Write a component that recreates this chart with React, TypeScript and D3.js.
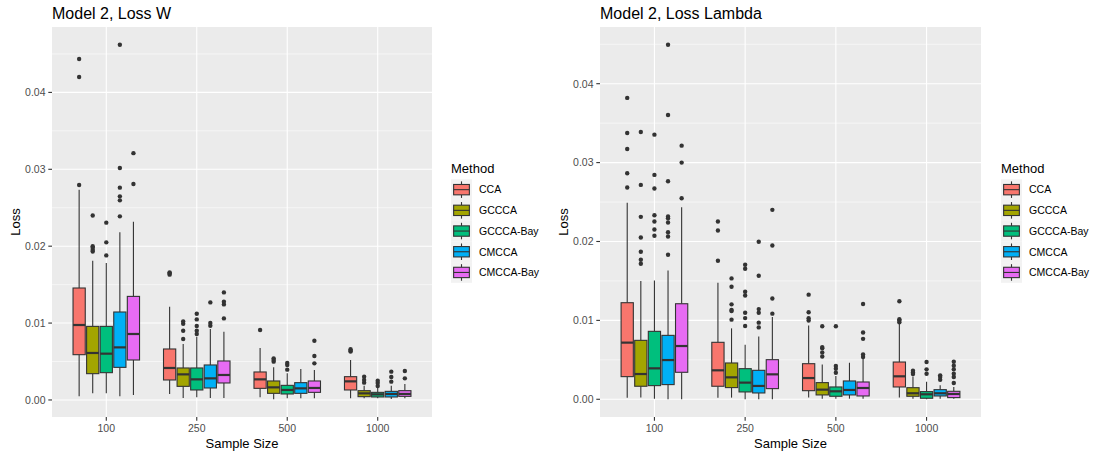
import React from 'react';
import * as d3 from 'd3';

const sampleSizes = ['100', '250', '500', '1000'];
const methods = ['CCA', 'GCCCA', 'GCCCA-Bay', 'CMCCA', 'CMCCA-Bay'];
const methodColors = ['#F8766D', '#A3A500', '#00BF7D', '#00B0F6', '#E76BF3'];
const yTicks = [0, 0.01, 0.02, 0.03, 0.04];
const yMinorTicks = [0.005, 0.015, 0.025, 0.035, 0.045];

// Loss W — per sample size: [lower whisker, Q1, median, Q3, upper whisker]
const wCCA = [
  [0.00047, 0.00589, 0.00975, 0.01456, 0.02735],
  [0.00078, 0.0026, 0.00416, 0.00663, 0.01213],
  [0.00034, 0.00151, 0.00268, 0.00364, 0.00676],
  [0.00021, 0.0013, 0.00242, 0.00303, 0.0052],
];
const wGCCCA = [
  [0.00086, 0.00342, 0.00611, 0.00957, 0.01811],
  [0.00026, 0.00177, 0.00333, 0.00416, 0.00728],
  [0.00009, 0.00086, 0.00164, 0.00247, 0.00424],
  [0.00021, 0.00043, 0.00086, 0.00121, 0.00186],
];
const wGCCCABay = [
  [0.00086, 0.00355, 0.00602, 0.00957, 0.01781],
  [0.00034, 0.0013, 0.00268, 0.00416, 0.00823],
  [0.00021, 0.00078, 0.0013, 0.0019, 0.00346],
  [0.00021, 0.00039, 0.00073, 0.00099, 0.00156],
];
const wCMCCA = [
  [0.00047, 0.00424, 0.00684, 0.01144, 0.0218],
  [0.00026, 0.00156, 0.00281, 0.00455, 0.00923],
  [0.00021, 0.00086, 0.00151, 0.00225, 0.00403],
  [0.00013, 0.00039, 0.00078, 0.00112, 0.00186],
];
const wCMCCABay = [
  [0.00064, 0.0052, 0.00858, 0.01347, 0.02319],
  [0.00026, 0.00221, 0.00325, 0.00507, 0.00888],
  [0.00021, 0.00099, 0.00156, 0.00247, 0.0039],
  [0.00021, 0.00047, 0.00078, 0.00121, 0.00208],
];

// Loss W — outliers per sample size
const wCCAOut = [[0.02796, 0.042, 0.04434], [0.0163, 0.01646, 0.0166], [0.0091], [0.0063, 0.00641, 0.0066]];
const wGCCCAOut = [[0.0193, 0.0195, 0.0198, 0.02, 0.024], [0.00793, 0.00901, 0.0099, 0.0102], [0.00498, 0.0052, 0.00541], [0.00225, 0.0026, 0.00303]];
const wGCCCABayOut = [[0.0188, 0.0205, 0.02306], [0.00858, 0.00901, 0.00962, 0.01048, 0.01122], [0.00394, 0.00455, 0.00481], [0.00182, 0.00221, 0.00251]];
const wCMCCAOut = [[0.02388, 0.02596, 0.02648, 0.02761, 0.03017, 0.0462], [0.00966, 0.01001, 0.01269], [], [0.00238, 0.00299, 0.00368]];
const wCMCCABayOut = [[0.02809, 0.0321], [0.01061, 0.01243, 0.01278, 0.01399], [0.00476, 0.00572, 0.00771], [0.00281, 0.00377]];

// Loss Lambda — per sample size: [lower whisker, Q1, median, Q3, upper whisker]
const lCCA = [
  [0.0002, 0.00287, 0.00718, 0.01224, 0.0249],
  [0.0002, 0.00165, 0.00367, 0.00722, 0.01477],
  [0.00021, 0.00109, 0.00269, 0.00451, 0.00935],
  [0.00021, 0.00156, 0.00291, 0.00472, 0.00956],
];
const lGCCCA = [
  [0.00021, 0.00165, 0.0032, 0.00747, 0.01498],
  [0.00021, 0.00148, 0.00278, 0.0046, 0.00899],
  [0.00008, 0.00055, 0.00122, 0.00211, 0.00442],
  [0.00008, 0.00038, 0.00076, 0.00147, 0.0029],
];
const lGCCCABay = [
  [0.00008, 0.00173, 0.00392, 0.00861, 0.01506],
  [0, 0.00093, 0.00211, 0.00388, 0.00692],
  [0.00008, 0.00038, 0.00101, 0.00156, 0.00295],
  [0, 0.00013, 0.00063, 0.00097, 0.00223],
];
const lCMCCA = [
  [0, 0.00186, 0.00497, 0.0081, 0.01633],
  [0, 0.0008, 0.00169, 0.00367, 0.00797],
  [0.00008, 0.00055, 0.00118, 0.00232, 0.00463],
  [0.00008, 0.00042, 0.00076, 0.00122, 0.00177],
];
const lCMCCABay = [
  [0, 0.00342, 0.00675, 0.01211, 0.02434],
  [0, 0.00135, 0.00316, 0.00502, 0.01042],
  [0.00008, 0.00042, 0.00143, 0.00219, 0.00514],
  [0.00008, 0.00021, 0.00067, 0.00101, 0.00156],
];

// Loss Lambda — outliers per sample size
const lCCAOut = [[0.02684, 0.02865, 0.03173, 0.03376, 0.0382], [0.01755, 0.02139, 0.02253], [0.00998, 0.01027, 0.01103, 0.01326], [0.00975, 0.00998, 0.01015, 0.01242]];
const lGCCCAOut = [[0.01717, 0.01768, 0.0187, 0.02051, 0.02312, 0.02717, 0.03388], [0.01009, 0.01118, 0.01133, 0.01203, 0.01426, 0.01532], [0.00543, 0.00594, 0.00648, 0.00661, 0.00926], [0.0032, 0.0034, 0.00362]];
const lGCCCABayOut = [[0.02072, 0.02152, 0.02253, 0.02333, 0.02671, 0.02844, 0.03354], [0.00928, 0.01029, 0.01097, 0.01316, 0.01363, 0.01654, 0.01705], [0.00337, 0.00387, 0.00421, 0.00926], [0.00324, 0.00379, 0.00472]];
const lCMCCAOut = [[0.01832, 0.02063, 0.02118, 0.0224, 0.02295, 0.02316, 0.02763, 0.03604, 0.04494], [0.00911, 0.00971, 0.01097, 0.01143, 0.01566, 0.01996], [], [0.00248, 0.00282, 0.00303]];
const lCMCCABayOut = [[0.02548, 0.03, 0.03215], [0.01085, 0.01278, 0.01949, 0.02401], [0.00535, 0.00568, 0.00766, 0.00846, 0.01208], [0.00206, 0.00282, 0.00324, 0.00379, 0.00425, 0.00476]];

const FONT = '"Liberation Sans", Arial, Helvetica, sans-serif';
const DARK = '#333333';

type PanelProps = {
  title: string;
  left: number;
  right: number;
  stats: number[][][];
  outliers: number[][][];
  legendX: number;
};

const TOP = 27;
const BOTTOM = 417;

function Panel({ title, left, right, stats, outliers, legendX }: PanelProps) {
  const all: number[] = [];
  stats.forEach((m) => m.forEach((s) => all.push(...s)));
  outliers.forEach((m) => m.forEach((o) => all.push(...o)));
  const [lo, hi] = d3.extent(all) as [number, number];
  const pad = (hi - lo) * 0.05;
  const y = d3.scaleLinear().domain([lo - pad, hi + pad]).range([BOTTOM, TOP]);
  const x = d3.scalePoint<string>().domain(sampleSizes).range([left, right]).padding(0.6);
  const step = x.step();
  const slot = (step * 0.75) / methods.length;
  const bw = slot * 0.9;
  const fmt = d3.format('.2f');
  const midY = (TOP + BOTTOM) / 2;

  return (
    <g>
      <text x={left} y={18.5} fontSize={16} fill="#000" fontFamily={FONT}>{title}</text>
      <rect x={left} y={TOP} width={right - left} height={BOTTOM - TOP} fill="#EBEBEB" />
      {yMinorTicks.filter((t) => y(t) >= TOP).map((t) => (
        <line key={'m' + t} x1={left} x2={right} y1={y(t)} y2={y(t)} stroke="#fff" strokeWidth={0.55} />
      ))}
      {yTicks.map((t) => (
        <line key={'g' + t} x1={left} x2={right} y1={y(t)} y2={y(t)} stroke="#fff" strokeWidth={1.1} />
      ))}
      {sampleSizes.map((s) => (
        <line key={'v' + s} x1={x(s)} x2={x(s)} y1={TOP} y2={BOTTOM} stroke="#fff" strokeWidth={1.1} />
      ))}
      {sampleSizes.map((s, i) =>
        methods.map((m, j) => {
          const [wl, q1, md, q3, wh] = stats[j][i];
          const cx = (x(s) as number) + (j - 2) * slot;
          return (
            <g key={s + m}>
              <line x1={cx} x2={cx} y1={y(wh)} y2={y(q3)} stroke={DARK} strokeWidth={1.1} />
              <line x1={cx} x2={cx} y1={y(q1)} y2={y(wl)} stroke={DARK} strokeWidth={1.1} />
              <rect x={cx - bw / 2} y={y(q3)} width={bw} height={y(q1) - y(q3)} fill={methodColors[j]} stroke={DARK} strokeWidth={1.1} />
              <line x1={cx - bw / 2} x2={cx + bw / 2} y1={y(md)} y2={y(md)} stroke={DARK} strokeWidth={2.2} />
              {outliers[j][i].map((o, k) => (
                <circle key={k} cx={cx} cy={y(o)} r={2.2} fill={DARK} />
              ))}
            </g>
          );
        })
      )}
      {yTicks.map((t) => (
        <g key={'t' + t}>
          <line x1={left - 3.7} x2={left} y1={y(t)} y2={y(t)} stroke={DARK} strokeWidth={1.1} />
          <text x={left - 6.5} y={y(t) + 3.8} textAnchor="end" fontSize={10.5} fill="#4D4D4D" fontFamily={FONT}>{fmt(t)}</text>
        </g>
      ))}
      {sampleSizes.map((s) => (
        <g key={'x' + s}>
          <line x1={x(s)} x2={x(s)} y1={BOTTOM} y2={BOTTOM + 3.7} stroke={DARK} strokeWidth={1.1} />
          <text x={x(s)} y={432.3} textAnchor="middle" fontSize={10.5} fill="#4D4D4D" fontFamily={FONT}>{s}</text>
        </g>
      ))}
      <text x={(left + right) / 2} y={448.3} textAnchor="middle" fontSize={13} fill="#000" fontFamily={FONT}>Sample Size</text>
      <text transform={`translate(${left - 32.5},${midY}) rotate(-90)`} textAnchor="middle" fontSize={13} fill="#000" fontFamily={FONT}>Loss</text>
      <Legend x={legendX} />
    </g>
  );
}

function Legend({ x }: { x: number }) {
  const keyW = 21;
  const keyH = 20.7;
  const top = 179.3;
  return (
    <g>
      <text x={x} y={172.5} fontSize={13} fill="#000" fontFamily={FONT}>Method</text>
      {methods.map((m, j) => {
        const ky = top + j * keyH;
        const cx = x + keyW / 2;
        return (
          <g key={m}>
            <rect x={x} y={ky} width={keyW} height={keyH} fill="#F2F2F2" />
            <line x1={cx} x2={cx} y1={ky + keyH * 0.1} y2={ky + keyH * 0.25} stroke={DARK} strokeWidth={1.1} />
            <line x1={cx} x2={cx} y1={ky + keyH * 0.75} y2={ky + keyH * 0.9} stroke={DARK} strokeWidth={1.1} />
            <rect x={x + keyW * 0.125} y={ky + keyH * 0.25} width={keyW * 0.75} height={keyH * 0.5} fill={methodColors[j]} stroke={DARK} strokeWidth={1.1} />
            <line x1={x + keyW * 0.125} x2={x + keyW * 0.875} y1={ky + keyH / 2} y2={ky + keyH / 2} stroke={DARK} strokeWidth={1.1} />
            <text x={x + 28} y={ky + keyH / 2 + 3.8} fontSize={10.5} fill="#000" fontFamily={FONT}>{m}</text>
          </g>
        );
      })}
    </g>
  );
}

export default function App() {
  return (
    <svg width={1094} height={459} style={{ position: 'absolute', left: 0, top: 0, background: '#fff' }}>
      <rect width={1094} height={459} fill="#fff" />
      <Panel
        title="Model 2, Loss W"
        left={52}
        right={432}
        stats={[wCCA, wGCCCA, wGCCCABay, wCMCCA, wCMCCABay]}
        outliers={[wCCAOut, wGCCCAOut, wGCCCABayOut, wCMCCAOut, wCMCCABayOut]}
        legendX={451}
      />
      <Panel
        title="Model 2, Loss Lambda"
        left={600}
        right={981}
        stats={[lCCA, lGCCCA, lGCCCABay, lCMCCA, lCMCCABay]}
        outliers={[lCCAOut, lGCCCAOut, lGCCCABayOut, lCMCCAOut, lCMCCABayOut]}
        legendX={1001}
      />
    </svg>
  );
}
